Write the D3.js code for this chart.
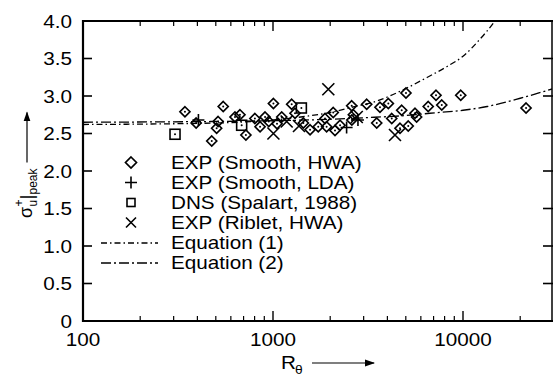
<!DOCTYPE html>
<html><head><meta charset="utf-8">
<script src="https://cdn.jsdelivr.net/npm/d3@7"></script>
<style>
html,body{margin:0;padding:0;background:#fff;}
svg{display:block;}
text{font-family:"Liberation Sans",Arial,Helvetica,sans-serif;fill:#000;}
</style></head>
<body>
<svg id="c" width="553" height="376"></svg>
<script>
// ---- data ----
const xTickValues = [100, 1000, 10000];
const xTickLabels = ["100", "1000", "10000"];
const yTickValues = [0, 0.5, 1.0, 1.5, 2.0, 2.5, 3.0, 3.5, 4.0];
const yTickLabels = ["0", "0.5", "1.0", "1.5", "2.0", "2.5", "3.0", "3.5", "4.0"];

const smoothHwaR = [344, 394, 476, 505, 514, 547, 631, 670, 720, 803, 855, 908, 950, 1005, 1050, 1112, 1254, 1306, 1445, 1567, 1730, 1878, 1915, 2075, 2120, 2254, 2595, 2648, 2600, 3113, 3656, 4046, 3515, 4217, 4757, 4660, 5150, 5010, 5590, 5700, 6560, 7210, 7730, 9730, 21470];
const smoothHwaV = [2.79, 2.64, 2.40, 2.57, 2.66, 2.86, 2.72, 2.75, 2.48, 2.70, 2.59, 2.72, 2.66, 2.90, 2.63, 2.72, 2.89, 2.77, 2.64, 2.55, 2.59, 2.70, 2.59, 2.78, 2.54, 2.61, 2.87, 2.75, 2.68, 2.89, 2.85, 2.90, 2.64, 2.70, 2.81, 2.57, 2.60, 3.04, 2.77, 2.72, 2.86, 3.01, 2.88, 3.01, 2.84];
const smoothLdaR = [405, 2440, 2800];
const smoothLdaV = [2.68, 2.58, 2.68];
const dnsR = [305, 684, 1410];
const dnsV = [2.49, 2.61, 2.84];
const ribletR = [1005, 1955, 4385, 1180, 1370, 2760];
const ribletV = [2.50, 3.09, 2.48, 2.66, 2.60, 2.72];

const eq1R = [100, 500, 1000, 1500, 2000, 2600, 3500, 5000, 6500, 8200, 10000, 12300, 14700, 16500];
const eq1V = [2.62, 2.64, 2.68, 2.73, 2.78, 2.85, 2.93, 3.10, 3.25, 3.39, 3.53, 3.76, 4.00, 4.20];
const eq2R = [100, 1000, 2000, 3000, 5000, 6700, 10000, 13400, 20000, 30000];
const eq2V = [2.65, 2.67, 2.69, 2.71, 2.74, 2.77, 2.81, 2.86, 2.97, 3.10];

const legendLabels = ["EXP (Smooth, HWA)", "EXP (Smooth, LDA)", "DNS (Spalart, 1988)", "EXP (Riblet, HWA)", "Equation (1)", "Equation (2)"];

// ---- layout ----
const svg = d3.select("#c");
const L = 83, R = 552, T = 21, B = 321;
const x = d3.scaleLog().domain([100, 30000]).range([L, L + 190 * Math.log10(300)]);
const y = d3.scaleLinear().domain([0, 4]).range([B, T]);
const SX = 1.15, FS = 18;

function txt(g, tx, ty, s, anchor, size) {
  return g.append("text")
    .attr("transform", `translate(${tx},${ty}) scale(${SX},1)`)
    .attr("text-anchor", anchor || "start")
    .attr("font-size", size || FS)
    .text(s);
}

const defs = svg.append("defs");
defs.append("clipPath").attr("id", "clip").append("rect")
  .attr("x", L).attr("y", T).attr("width", R - L).attr("height", B - T);
const mk = defs.append("marker").attr("id", "arr").attr("viewBox", "0 0 10 10")
  .attr("refX", 9).attr("refY", 5).attr("markerWidth", 10).attr("markerHeight", 10)
  .attr("markerUnits", "userSpaceOnUse").attr("orient", "auto");
mk.append("path").attr("d", "M0,1.5 L10,5 L0,8.5 Z").attr("fill", "#000");

// ---- curves ----
const line = d3.line().x(d => x(d[0])).y(d => y(d[1])).curve(d3.curveMonotoneX);
const plot = svg.append("g").attr("clip-path", "url(#clip)");
const eq1 = eq1R.map((r, i) => [r, eq1V[i]]);
const eq2 = eq2R.map((r, i) => [r, eq2V[i]]);
const dash1 = "6,3,1.5,3", dash2 = "10,3,2,3";
plot.append("path").attr("d", line(eq1)).attr("fill", "none").attr("stroke", "#000")
  .attr("stroke-width", 1.3).attr("stroke-dasharray", dash1);
plot.append("path").attr("d", line(eq2)).attr("fill", "none").attr("stroke", "#000")
  .attr("stroke-width", 1.3).attr("stroke-dasharray", dash2);

// ---- marker drawers ----
function diamond(g, cx, cy, s) {
  g.append("path").attr("d", `M${cx},${cy - s}L${cx + s},${cy}L${cx},${cy + s}L${cx - s},${cy}Z`)
    .attr("fill", "none").attr("stroke", "#000").attr("stroke-width", 1.7);
}
function dot(g, cx, cy) {
  g.append("circle").attr("cx", cx).attr("cy", cy).attr("r", 1).attr("fill", "#000");
}
function plus(g, cx, cy, s) {
  g.append("path").attr("d", `M${cx - s},${cy}H${cx + s}M${cx},${cy - s}V${cy + s}`)
    .attr("stroke", "#000").attr("stroke-width", 1.6);
}
function cross(g, cx, cy, s) {
  g.append("path").attr("d", `M${cx - s},${cy - s}L${cx + s},${cy + s}M${cx - s},${cy + s}L${cx + s},${cy - s}`)
    .attr("stroke", "#000").attr("stroke-width", 1.6);
}
function square(g, cx, cy, s) {
  g.append("rect").attr("x", cx - s).attr("y", cy - s).attr("width", 2 * s).attr("height", 2 * s)
    .attr("fill", "none").attr("stroke", "#000").attr("stroke-width", 1.6);
}

const pts = svg.append("g").attr("clip-path", "url(#clip)");
smoothHwaR.forEach((r, i) => { diamond(pts, x(r), y(smoothHwaV[i]), 5); dot(pts, x(r), y(smoothHwaV[i])); });
dnsR.forEach((r, i) => { square(pts, x(r), y(dnsV[i]), 5); dot(pts, x(r), y(dnsV[i])); });
smoothLdaR.forEach((r, i) => plus(pts, x(r), y(smoothLdaV[i]), 6));
ribletR.forEach((r, i) => cross(pts, x(r), y(ribletV[i]), 6));

// ---- frame & ticks ----
const ax = svg.append("g").attr("stroke", "#000");
ax.append("line").attr("x1", L).attr("x2", L).attr("y1", T - 1).attr("y2", B + 1).attr("stroke-width", 2.2);
ax.append("line").attr("x1", L).attr("x2", 553).attr("y1", B).attr("y2", B).attr("stroke-width", 2);
ax.append("line").attr("x1", L).attr("x2", 553).attr("y1", T).attr("y2", T).attr("stroke-width", 2);
ax.append("line").attr("x1", R).attr("x2", R).attr("y1", T).attr("y2", B).attr("stroke-width", 1.5);

const minor = [];
for (let d = 100; d < 30000; d *= 10) for (let k = 2; k <= 9; k++) if (d * k <= 30000) minor.push(d * k);
minor.forEach(v => {
  const px = x(v);
  if (px > 551) return;
  ax.append("line").attr("x1", px).attr("x2", px).attr("y1", B).attr("y2", B - 5).attr("stroke-width", 1.2);
  ax.append("line").attr("x1", px).attr("x2", px).attr("y1", T).attr("y2", T + 5).attr("stroke-width", 1.2);
});
xTickValues.forEach(v => {
  const px = x(v);
  ax.append("line").attr("x1", px).attr("x2", px).attr("y1", B).attr("y2", B - 10).attr("stroke-width", 1.4);
  ax.append("line").attr("x1", px).attr("x2", px).attr("y1", T).attr("y2", T + 10).attr("stroke-width", 1.4);
});
yTickValues.forEach(v => {
  const py = y(v);
  ax.append("line").attr("x1", L).attr("x2", L + 9).attr("y1", py).attr("y2", py).attr("stroke-width", 1.6);
  ax.append("line").attr("x1", 553).attr("x2", 543).attr("y1", py).attr("y2", py).attr("stroke-width", 1.6);
});

// ---- tick labels ----
const lab = svg.append("g");
yTickValues.forEach((v, i) => txt(lab, 72, y(v) + 6.5, yTickLabels[i], "end"));
xTickValues.forEach((v, i) => txt(lab, x(v), 346, xTickLabels[i], "middle"));

// ---- x title ----
txt(lab, 281, 369, "R");
txt(lab, 295, 374, "θ", "start", 12);
svg.append("line").attr("x1", 312).attr("x2", 374).attr("y1", 363).attr("y2", 363)
  .attr("stroke", "#000").attr("stroke-width", 1.2).attr("marker-end", "url(#arr)");

// ---- y title (rotated) ----
const yt = svg.append("g").attr("transform", "translate(32,218) rotate(-90)");
const sig = yt.append("text").attr("x", 0).attr("y", 0).attr("font-size", FS).text("σ");
let w = sig.node().getComputedTextLength();
const u = yt.append("text").attr("x", w + 0.5).attr("y", 5).attr("font-size", 12).text("u");
yt.append("text").attr("x", w + 0.5).attr("y", -9).attr("font-size", 12).text("+");
w += u.node().getComputedTextLength() + 1;
const bar = yt.append("text").attr("x", w).attr("y", 1).attr("font-size", FS).text("|");
w += bar.node().getComputedTextLength();
const pk = yt.append("text").attr("x", w).attr("y", 5).attr("font-size", 12).text("peak");
w += pk.node().getComputedTextLength();
yt.append("line").attr("x1", w + 6).attr("x2", w + 56).attr("y1", -5).attr("y2", -5)
  .attr("stroke", "#000").attr("stroke-width", 1.2).attr("marker-end", "url(#arr)");

// ---- legend ----
const lg = svg.append("g");
const rowY = [169, 189, 209, 229, 249, 269];
legendLabels.forEach((s, i) => txt(lg, 171, rowY[i], s));
diamond(lg, 131, rowY[0] - 6.5, 5.5);
plus(lg, 131, rowY[1] - 6.5, 6);
square(lg, 131, rowY[2] - 6.5, 4);
cross(lg, 131, rowY[3] - 6.5, 5);
lg.append("line").attr("x1", 101).attr("x2", 158).attr("y1", rowY[4] - 6).attr("y2", rowY[4] - 6)
  .attr("stroke", "#000").attr("stroke-width", 1.3).attr("stroke-dasharray", dash1);
lg.append("line").attr("x1", 101).attr("x2", 158).attr("y1", rowY[5] - 6).attr("y2", rowY[5] - 6)
  .attr("stroke", "#000").attr("stroke-width", 1.3).attr("stroke-dasharray", dash2);
</script>
</body></html>
